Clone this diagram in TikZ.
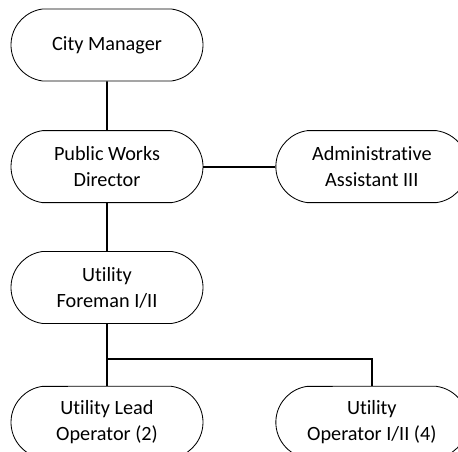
\documentclass[tikz,border=0pt]{standalone}
\usepackage{fontspec}
\setmainfont{Carlito}[Ligatures={NoCommon}]
\usepackage{tikz}
\usetikzlibrary{positioning,shapes.misc,calc}

\begin{document}
\begin{tikzpicture}[
        node distance=1.22cm and 1.8cm,
        every node/.style={font=\fontsize{14.4}{18.4}\selectfont},
        role/.style={
            draw=black,
            line width=0.6pt,
            rounded rectangle,
            rounded rectangle arc length=165,
            align=center,
            minimum width=4.8cm,
            minimum height=1.8cm,
            inner sep=0pt,
            fill=white
        },
        link/.style={draw=black, line width=1.4pt}
    ]
        % Frame
        \useasboundingbox (0,0) rectangle (11.45,-11.3);
        \clip (0,0) rectangle (11.45,-11.3);

        % Main Column
        \node[role] (city) at (2.675,-1.125) {City Manager};
        \node[role, below=of city] (pwd) {Public Works\\Director};
        \node[role, below=1.2cm of pwd] (foreman) {Utility\\Foreman I/II};
        \node[role, below=1.55cm of foreman] (lead) {Utility Lead\\Operator (2)};

        % Right Column
        \node[role, right=of pwd] (admin) {Administrative\\Assistant III};
        \node[role, right=of lead] (oper) {Utility\\Operator I/II (4)};

        \coordinate (split) at ($(foreman.south)!0.565!(lead.north)$);

        % Lines
        \draw[link] (city) -- (pwd);
        \draw[link] (pwd.east) -- (admin.west);
        \draw[link] (pwd) -- (foreman);
        \draw[link] (foreman) -- (lead);
        \draw[link] (split) -| (oper.north);

    \end{tikzpicture}
\end{document}
